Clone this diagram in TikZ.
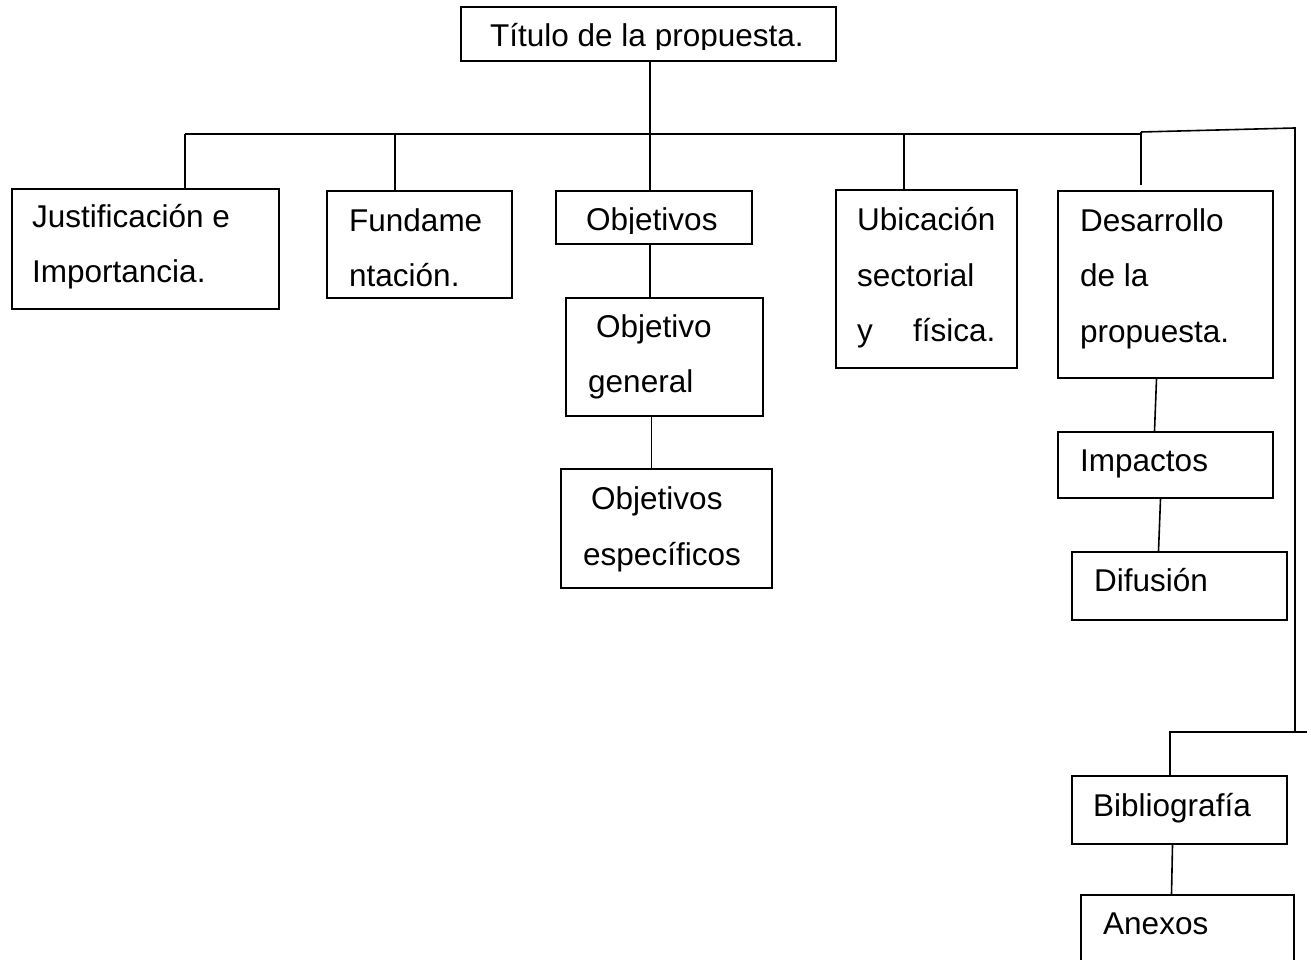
\documentclass[tikz,border=0pt]{standalone}
\usepackage{fontspec}
\setmainfont{Liberation Sans}
\begin{document}
\begin{tikzpicture}[x=1pt,y=1pt,
  box/.style={draw=black,line width=1.8pt,inner sep=0pt,fill=none},
  txt/.style={anchor=base west,inner sep=0pt,font=\fontsize{31.5pt}{38pt}\selectfont},
  conn/.style={draw=black,line width=1.6pt}]
\clip (0,0) rectangle (1311,960);
\fill[white] (0,0) rectangle (1311,960);
% boxes
\node[box,minimum width=375pt,minimum height=54pt] (title) at (648.5,926) {};
\node[box,minimum width=267pt,minimum height=120pt] (just) at (145.5,711) {};
\node[box,minimum width=185pt,minimum height=107pt] (fund) at (419.5,715.5) {};
\node[box,minimum width=196pt,minimum height=53pt] (obj) at (654,742.5) {};
\node[box,minimum width=197pt,minimum height=118pt] (objg) at (664.5,603) {};
\node[box,minimum width=211pt,minimum height=119pt] (obje) at (666.5,431.5) {};
\node[box,minimum width=181pt,minimum height=178pt] (ubic) at (926.5,681) {};
\node[box,minimum width=215pt,minimum height=187pt] (desa) at (1165.5,675.5) {};
\node[box,minimum width=215pt,minimum height=66pt] (imp) at (1165.5,495) {};
\node[box,minimum width=215pt,minimum height=68pt] (dif) at (1179.5,374) {};
\node[box,minimum width=215pt,minimum height=68pt] (bib) at (1179.5,150) {};
\node[box,minimum width=213pt,minimum height=105pt] (anex) at (1187.5,12.5) {};
% texts
\begin{scope}
\clip (461,910) rectangle (836,953);
\node[txt] (ttitle) at (490,913) {Título de la propuesta.};
\end{scope}
\node[txt] (tjust1) at (32,732) {Justificación e};
\node[txt] (tjust2) at (32,677) {Importancia.};
\node[txt] (tfund1) at (349,728) {Fundame};
\node[txt] (tfund2) at (349,673) {ntación.};
\begin{scope}
\clip (556,726) rectangle (752,769);
\node[txt] (tobj) at (586,729) {Objetivos};
\end{scope}
\node[txt] (tobjg1) at (596,622) {Objetivo};
\node[txt] (tobjg2) at (588,567) {general};
\node[txt] (tobje1) at (591,450) {Objetivos};
\node[txt] (tobje2) at (583,394) {específicos};
\node[txt] (tubic1) at (857,729) {Ubicación};
\node[txt] (tubic2) at (857,673) {sectorial};
\node[txt] (tubic3) at (857,618) {y};
\node[txt] (tubic4) at (913,618) {física.};
\node[txt] (tdesa1) at (1080,728) {Desarrollo};
\node[txt] (tdesa2) at (1080,673) {de la};
\node[txt] (tdesa3) at (1080,617) {propuesta.};
\node[txt] (timp) at (1080,488) {Impactos};
\node[txt] (tdif) at (1094,368) {Difusión};
\node[txt] (tbib) at (1093,143) {Bibliografía};
\node[txt] (tanex) at (1103,25) {Anexos};
% bus coordinates
\coordinate (busL) at (185,826);
\coordinate (busR) at (1140,826);
\coordinate (bT) at (650,826);
\coordinate (bF) at (395,826);
\coordinate (bU) at (904,826);
\coordinate (bD) at (1141,828);
\coordinate (rTop) at (1295,832);
\coordinate (rBot) at (1295,228);
\coordinate (lowL) at (1169,228);
\coordinate (lowR) at (1307,228);
\coordinate (bB) at (1170,228);
% connectors
\draw[conn] (busL) -- (busR);
\draw[conn] (bD) -- (rTop) -- (rBot);
\draw[conn] (lowL) -- (lowR);
\draw[conn] (title.south -| bT) -- (obj.north -| bT);
\draw[conn] (busL) -- (busL |- just.north);
\draw[conn] (bF) -- (bF |- fund.north);
\draw[conn] (bU) -- (bU |- ubic.north);
\draw[conn] (bD) -- ([yshift=5pt]desa.north -| bD);
\draw[conn] (obj.south -| bT) -- (objg.north -| bT);
\draw[conn] ([xshift=-13pt]objg.south) -- ([xshift=-15pt]obje.north);
\draw[conn] ([xshift=-9pt]desa.south) -- ([xshift=-11pt]imp.north);
\draw[conn] ([xshift=-5pt]imp.south) -- ([xshift=-21pt]dif.north);
\draw[conn] (bB) -- (bB |- bib.north);
\draw[conn] ([xshift=-7pt]bib.south) -- ([xshift=-16pt]anex.north);
\end{tikzpicture}
\end{document}
